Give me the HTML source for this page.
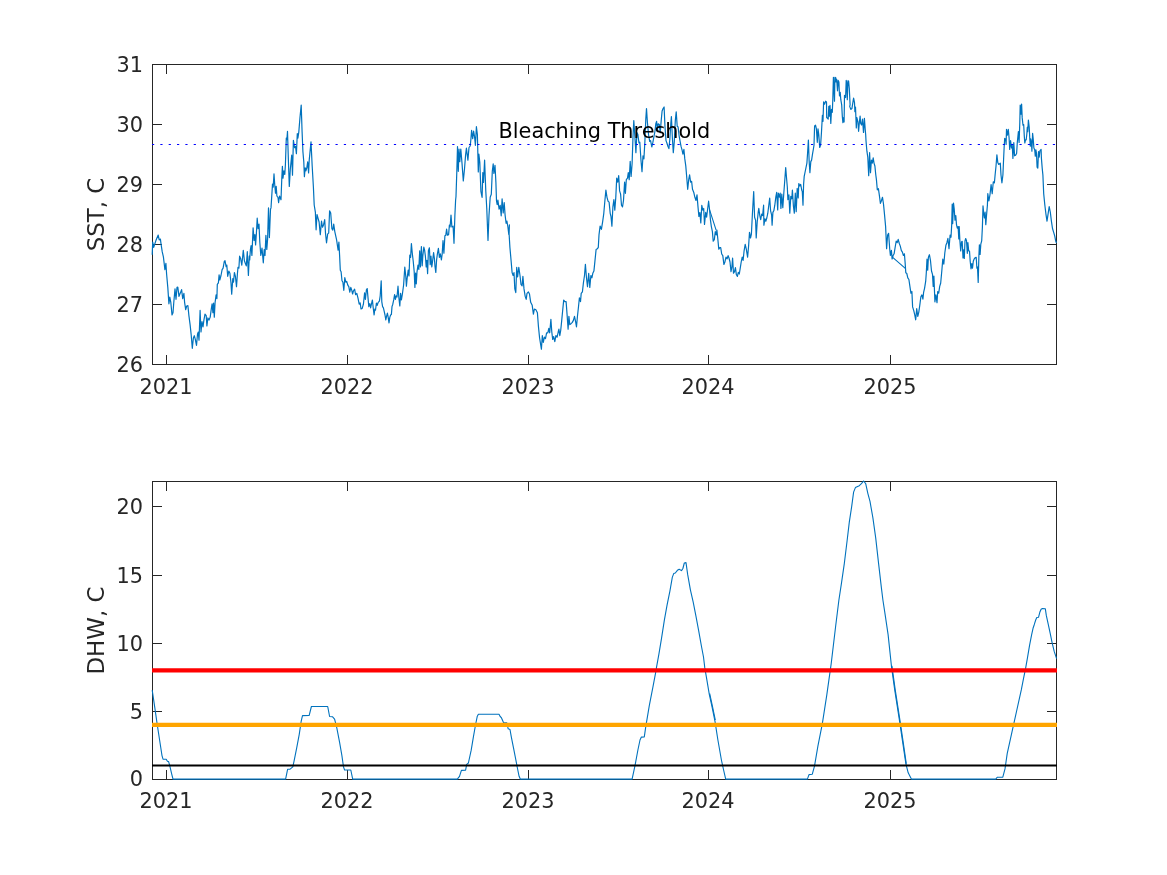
<!DOCTYPE html>
<html><head><meta charset="utf-8"><title>SST and DHW</title>
<style>html,body{margin:0;padding:0;background:#fff}svg{display:block}</style></head>
<body>
<svg width="1167" height="875" viewBox="0 0 1167 875">
<style>text{font-family:"DejaVu Sans","Liberation Sans",sans-serif;fill:#262626}.t{font-size:20.83px}.l{font-size:22.92px}</style>
<rect width="1167" height="875" fill="#fff"/>
<path d="M152.5 64.5H1056.5V364.5H152.5ZM166.5 364.5v-10M166.5 64.5v9M347.5 364.5v-10M347.5 64.5v9M528.5 364.5v-10M528.5 64.5v9M708.5 364.5v-10M708.5 64.5v9M890.5 364.5v-10M890.5 64.5v9M152.5 364.5h9M1056.5 364.5h-10M152.5 304.5h9M1056.5 304.5h-10M152.5 244.5h9M1056.5 244.5h-10M152.5 184.5h9M1056.5 184.5h-10M152.5 124.5h9M1056.5 124.5h-10M152.5 64.5h9M1056.5 64.5h-10" fill="none" stroke="#262626" stroke-width="1" shape-rendering="crispEdges"/>
<text class="t" x="165.9" y="394.2" text-anchor="middle">2021</text>
<text class="t" x="346.9" y="394.2" text-anchor="middle">2022</text>
<text class="t" x="527.9" y="394.2" text-anchor="middle">2023</text>
<text class="t" x="707.9" y="394.2" text-anchor="middle">2024</text>
<text class="t" x="889.9" y="394.2" text-anchor="middle">2025</text>
<text class="t" x="143.1" y="372.1" text-anchor="end">26</text>
<text class="t" x="143.1" y="312.1" text-anchor="end">27</text>
<text class="t" x="143.1" y="252.1" text-anchor="end">28</text>
<text class="t" x="143.1" y="192.1" text-anchor="end">29</text>
<text class="t" x="143.1" y="132.1" text-anchor="end">30</text>
<text class="t" x="143.1" y="72.1" text-anchor="end">31</text>
<path d="M152.2 254.7 152.7 242.1 153.7 247.3 155.9 240.6 158.2 235.1 159.2 239.9 160.4 239.1 161.1 244.3 162.2 251.7 163.4 256.9 164.9 269.6 165.9 263.3 166.6 274.0 167.8 287.4 168.9 303.8 169.8 297.1 170.8 302.3 172.0 314.9 173.0 312.7 173.8 302.3 175.0 288.9 176.0 299.3 177.0 287.4 177.8 287.1 179.0 296.3 180.5 292.6 181.6 289.6 182.7 298.6 183.9 293.4 184.6 302.3 185.7 309.7 186.7 306.0 187.9 305.7 188.9 315.6 190.1 324.6 191.2 335.0 192.3 348.3 193.4 337.9 194.3 335.7 195.3 339.4 196.5 345.4 197.5 334.2 198.3 332.0 199.0 340.2 200.1 310.4 201.0 332.0 202.0 321.6 203.0 326.8 203.9 320.1 205.0 314.2 206.2 315.6 206.9 326.0 207.9 317.9 209.0 320.1 210.2 317.1 211.2 309.7 212.1 303.8 212.9 312.7 213.6 303.0 214.3 317.1 215.1 302.3 216.1 294.8 216.9 298.6 217.3 284.4 218.4 282.9 219.1 274.8 219.8 280.0 221.0 275.5 222.1 269.6 223.1 268.1 224.3 261.4 225.0 260.7 226.1 266.6 226.8 265.1 227.7 276.3 228.8 271.1 229.9 273.3 231.0 282.9 231.7 294.1 232.8 278.5 233.5 282.2 234.4 272.5 235.4 276.3 236.5 286.7 237.4 274.0 238.0 267.3 238.9 268.1 239.6 256.2 240.6 258.4 241.8 265.1 243.3 250.3 244.4 260.7 245.4 263.6 246.3 265.9 247.3 251.7 248.4 275.5 249.3 256.2 249.7 259.9 250.4 249.5 251.1 245.7 251.9 255.4 253.1 227.9 254.1 240.5 254.9 234.6 255.6 245.0 256.4 233.1 257.2 218.2 258.1 228.7 259.0 224.2 259.8 242.0 260.8 255.4 262.0 248.0 263.3 262.8 264.2 249.5 265.0 255.4 265.9 235.3 266.8 249.5 267.6 239.1 268.5 207.8 269.4 237.6 270.5 209.3 271.0 207.9 272.5 184.2 273.2 187.1 274.0 173.8 274.7 184.2 275.5 193.1 276.2 186.4 276.9 196.0 278.0 197.5 278.6 202.7 279.5 196.0 281.0 199.8 281.8 178.2 282.4 166.3 283.0 178.2 283.9 170.8 284.8 174.5 285.4 164.8 286.3 138.1 286.9 139.6 287.5 131.4 288.4 160.4 289.3 186.4 290.3 169.3 291.7 155.2 292.5 175.2 293.4 140.3 294.6 147.7 295.5 146.3 296.4 153.7 297.3 133.6 297.9 138.1 298.8 132.1 300.0 117.3 301.2 105.1 302.1 132.1 302.9 151.5 303.8 161.9 304.4 176.7 305.2 167.8 305.9 170.8 306.8 167.8 307.7 161.9 308.6 173.0 309.2 160.4 311.0 141.8 312.2 166.3 313.4 187.1 314.2 205.0 315.4 212.4 315.5 216.0 316.1 229.8 317.0 214.5 318.0 218.2 319.1 222.0 320.3 234.6 321.5 221.2 322.5 227.2 323.5 224.9 324.7 219.7 325.5 233.1 326.5 242.8 327.7 233.9 328.7 233.1 329.6 210.8 330.7 213.0 331.9 228.7 332.8 230.1 333.7 224.2 334.8 231.6 336.6 239.8 338.1 250.2 338.9 242.0 339.6 255.4 340.3 270.3 341.1 271.8 342.0 280.7 342.9 282.2 343.8 290.3 344.8 277.7 345.8 282.2 346.7 281.4 347.8 285.1 348.8 286.6 349.8 292.2 350.8 287.4 351.8 290.4 352.6 294.0 353.4 291.0 354.6 289.2 355.6 294.6 356.8 293.4 358.0 298.2 359.2 304.2 360.2 303.0 361.0 309.0 362.2 308.4 363.4 304.2 364.6 292.8 365.4 299.4 366.4 289.8 367.2 288.6 368.0 297.6 368.8 306.6 369.8 303.6 370.6 307.8 371.4 304.2 372.4 300.0 373.2 307.8 374.1 315.0 374.8 309.0 375.5 310.2 376.4 303.0 377.2 305.4 378.2 302.4 379.4 301.2 380.2 295.8 381.2 280.8 381.8 301.8 382.6 306.6 383.4 307.8 384.2 311.4 385.0 315.0 385.8 319.8 386.6 316.2 387.4 313.2 388.2 317.4 389.0 322.8 389.8 317.4 390.6 315.0 391.4 314.4 392.0 306.6 392.8 304.2 393.8 299.4 394.6 294.6 395.4 299.4 396.2 295.8 397.0 297.0 398.0 286.2 398.8 297.0 399.8 306.0 400.6 293.4 401.4 300.0 402.4 294.0 403.6 285.0 404.8 267.0 405.8 276.6 406.4 286.2 407.2 277.8 408.2 270.0 409.0 276.0 409.8 255.0 410.6 257.4 411.4 243.6 412.2 252.6 413.2 261.0 414.2 271.8 414.9 287.4 415.6 273.0 416.3 283.8 417.0 271.8 418.0 265.2 418.8 269.4 419.7 250.8 420.4 267.0 421.4 246.6 422.2 265.8 422.8 256.2 423.8 247.2 424.6 250.2 425.4 256.2 426.2 267.0 426.9 260.4 427.6 273.6 428.4 250.8 429.4 247.8 430.2 264.6 431.0 256.2 431.8 267.0 432.6 261.0 433.6 252.6 434.4 258.6 435.0 266.4 435.8 272.4 436.6 259.8 437.4 253.8 438.4 248.4 439.4 257.4 440.3 253.8 441.4 259.8 442.2 253.8 443.0 240.6 443.9 253.2 444.9 235.8 445.8 235.2 446.6 229.2 447.4 235.2 448.6 234.6 449.4 225.0 450.1 227.0 451.0 215.1 451.9 227.0 453.1 226.2 454.0 243.3 454.9 215.1 455.6 200.2 456.0 196.5 456.8 172.0 457.5 146.7 458.3 171.3 459.0 149.0 459.8 161.6 460.8 149.0 462.0 163.1 463.3 180.9 464.5 169.0 465.6 154.9 466.4 148.2 467.9 160.1 469.0 147.5 470.2 146.0 470.9 139.3 471.6 130.4 472.7 138.6 473.6 131.1 474.5 136.3 475.4 145.3 476.4 126.7 477.4 134.9 478.3 172.0 478.9 154.2 479.8 162.3 480.9 191.3 482.1 197.3 482.8 172.7 483.5 182.4 484.6 160.1 485.8 191.3 486.8 209.2 488.0 240.4 489.0 215.1 490.2 197.3 491.3 194.3 492.3 171.3 493.2 163.8 493.9 173.5 495.0 165.3 495.9 182.4 496.5 201.0 497.2 204.7 497.9 200.2 499.1 209.2 500.2 205.4 501.2 215.8 502.1 198.8 503.2 212.9 504.2 202.5 505.1 215.1 506.1 223.3 506.9 221.0 507.9 227.0 508.8 234.4 509.4 224.8 509.1 233.9 509.9 247.3 511.1 260.7 512.1 272.6 513.1 275.5 514.0 272.6 514.8 288.9 515.8 292.6 516.7 267.4 517.6 277.0 518.8 267.4 520.0 275.5 521.0 284.5 522.1 285.9 522.9 276.3 524.0 288.9 525.2 296.4 526.2 299.3 527.0 293.4 528.4 291.9 529.5 294.1 530.7 302.3 532.2 305.3 533.4 314.2 534.4 309.0 535.9 309.7 537.4 312.7 538.4 326.1 539.6 338.0 541.4 349.1 542.3 335.7 543.3 342.4 544.4 337.2 545.5 338.7 546.6 332.8 547.8 332.8 548.8 328.3 549.7 332.8 550.9 319.4 551.8 332.0 552.7 339.5 553.7 336.5 554.8 341.7 555.9 335.7 557.1 337.2 558.2 332.0 558.9 329.1 559.8 335.7 560.7 330.5 561.6 321.6 562.6 311.2 563.7 300.1 564.9 301.6 566.1 301.6 567.1 314.9 568.1 329.1 568.9 316.4 569.8 324.6 570.8 323.9 572.3 322.4 573.5 320.1 574.5 316.4 575.6 321.6 576.5 326.8 577.5 315.7 578.5 306.8 579.4 297.8 580.5 301.6 581.2 293.4 582.4 291.9 583.4 283.0 584.5 275.5 585.4 264.4 586.4 277.0 587.5 286.7 588.7 273.3 589.8 287.4 590.9 275.5 591.9 277.8 592.8 273.3 593.9 271.1 594.9 261.4 596.1 249.5 597.3 248.8 598.3 247.3 599.0 234.9 600.1 226.1 601.4 229.3 602.7 221.3 603.8 213.3 604.9 200.5 605.9 190.1 607.0 197.3 608.1 201.3 609.1 202.1 610.2 213.3 611.0 216.5 611.9 226.1 612.9 206.9 613.9 199.7 614.8 210.1 615.8 197.3 616.7 178.1 617.7 182.1 618.7 175.7 619.6 190.9 620.6 194.1 621.5 205.3 622.5 206.9 623.5 200.5 624.6 182.1 625.4 193.3 626.3 179.7 627.5 178.1 628.3 172.5 629.2 179.7 630.2 161.3 631.1 176.5 632.1 163.7 633.0 136.6 633.8 120.6 635.0 138.2 635.9 152.6 636.9 132.6 637.8 134.2 639.0 143.0 639.8 142.2 641.0 160.5 642.0 171.7 643.0 155.8 643.9 158.9 644.9 141.4 645.8 119.0 646.5 108.6 647.4 122.2 648.6 135.0 649.7 141.4 650.6 140.6 651.8 147.0 652.9 142.2 653.8 137.4 655.0 131.0 655.8 123.8 656.6 121.4 657.4 131.0 658.1 123.8 659.3 124.6 660.2 132.6 661.2 120.6 662.1 111.0 663.1 108.6 664.1 107.0 665.0 127.0 666.0 140.6 666.9 143.0 667.9 146.2 668.9 148.6 669.8 139.8 670.8 123.8 671.4 116.6 672.4 138.2 673.3 152.6 674.3 141.4 675.3 120.6 676.2 111.8 677.2 126.2 678.1 127.0 679.1 135.8 680.1 141.4 681.0 146.2 682.1 150.2 682.9 154.2 683.9 149.4 684.8 158.9 685.8 166.1 686.8 178.1 687.7 189.3 688.7 179.7 689.6 174.9 690.6 182.1 691.6 181.3 692.5 189.3 693.8 192.5 694.9 197.3 696.0 200.5 697.0 194.9 698.0 206.9 698.9 216.5 699.9 212.5 700.8 222.9 701.8 205.3 702.8 210.1 703.7 208.5 704.5 224.5 705.7 212.4 706.6 217.2 707.6 209.2 708.6 201.2 709.5 209.2 710.5 220.4 711.4 226.8 712.4 231.6 713.2 241.2 714.3 239.6 715.3 231.6 716.2 234.8 716.9 230.0 717.8 238.8 718.8 249.2 719.8 247.6 720.7 247.6 721.7 254.0 722.8 255.6 723.9 264.4 724.9 262.0 726.0 257.2 727.1 258.8 728.1 255.6 729.0 258.0 730.0 262.0 731.0 271.6 731.9 266.8 732.6 258.0 733.5 273.2 734.5 271.6 735.4 267.6 736.4 274.8 737.4 276.4 738.3 272.4 739.3 274.0 740.2 268.4 741.2 262.0 742.2 257.2 743.1 260.4 744.1 250.8 745.2 244.4 746.3 249.2 747.6 257.2 748.6 246.0 749.5 232.4 750.5 238.0 751.4 234.0 752.4 214.0 753.7 191.6 754.6 217.2 755.6 220.4 756.2 238.0 757.2 222.0 758.2 212.4 758.8 208.4 759.8 215.6 760.7 219.6 761.7 214.0 762.6 215.6 763.6 205.2 763.9 225.2 764.9 218.8 765.8 221.2 766.8 218.0 767.8 213.2 768.7 206.0 769.7 198.0 770.6 210.8 771.6 214.8 772.1 225.2 772.9 212.4 773.8 210.8 774.8 205.2 775.8 197.2 776.7 192.4 777.7 210.0 778.3 193.2 779.3 197.2 780.2 193.2 780.9 208.4 781.8 194.0 782.8 207.6 783.8 193.2 784.7 181.2 785.7 167.6 786.6 178.8 787.3 186.8 787.9 199.6 788.9 194.8 789.8 213.2 790.8 196.4 791.8 198.8 792.4 190.0 793.4 206.0 794.3 213.2 795.3 193.2 796.2 211.6 797.2 188.4 798.2 198.0 798.8 183.6 799.8 186.0 800.7 184.4 801.7 190.0 802.3 191.6 803.0 205.2 803.6 184.4 804.2 176.4 805.4 170.5 806.9 163.1 807.6 152.7 808.4 140.0 809.1 160.1 809.9 172.7 810.8 161.6 811.6 160.1 812.5 154.2 813.4 149.0 814.0 145.2 814.6 125.9 815.5 125.2 816.4 128.9 817.3 142.3 818.0 128.9 818.8 134.8 819.7 147.5 820.6 145.2 821.4 133.4 822.4 115.3 823.0 121.3 823.6 101.9 824.5 104.2 825.6 101.2 826.5 101.9 826.7 117.5 828.2 119.0 828.8 106.4 829.5 116.1 830.0 105.3 830.8 123.5 831.5 109.4 832.3 112.3 832.8 99.7 833.4 77.4 834.5 101.2 834.9 77.4 835.8 77.8 836.0 81.9 836.7 79.3 837.5 90.8 838.2 80.4 838.9 81.9 839.5 96.0 840.2 92.3 840.8 99.7 841.7 104.9 842.3 116.1 842.9 122.7 843.6 117.5 844.1 122.0 844.5 95.3 845.6 97.5 846.2 80.4 846.7 83.4 847.3 99.7 847.9 80.8 848.6 81.1 849.3 88.6 850.1 104.9 849.7 106.4 850.8 109.4 851.9 108.6 853.1 101.2 853.6 98.2 854.5 102.7 854.9 111.6 855.5 107.1 856.3 127.9 856.8 117.5 857.9 122.0 858.6 131.3 859.4 122.0 860.1 116.1 860.7 123.5 861.6 125.0 862.5 119.0 863.5 132.4 864.4 118.3 865.2 129.4 865.7 135.0 866.0 140.8 866.9 151.2 867.8 157.1 868.7 175.7 869.6 152.7 870.5 172.7 871.4 160.1 872.3 163.1 873.2 157.9 874.0 163.1 874.9 166.0 875.8 175.0 876.4 179.4 877.3 189.8 878.4 188.7 879.4 195.6 880.4 203.3 881.4 200.7 882.5 197.3 883.5 204.1 884.5 214.4 885.6 226.4 886.6 248.7 887.6 235.0 888.6 233.3 889.7 248.7 890.4 255.5 891.4 250.4 892.1 259.0 893.1 255.5 894.1 253.8 895.2 247.0 896.2 241.0 897.2 242.7 898.2 239.3 899.3 243.5 900.3 246.1 901.3 250.4 902.4 252.1 903.4 255.5 904.4 253.8 905.1 262.4 905.8 272.7 906.8 273.5 907.8 277.8 908.9 279.5 909.9 286.4 910.9 293.2 911.9 291.5 912.6 306.9 913.7 310.4 914.7 314.7 915.7 319.8 916.7 308.7 917.8 316.4 918.8 312.1 919.8 305.2 920.9 296.7 921.9 294.9 922.9 299.2 923.6 292.4 924.6 288.1 925.7 281.2 926.3 272.7 927.0 259.0 927.7 270.1 928.4 257.2 929.4 254.7 930.5 260.7 931.5 271.0 932.5 274.4 933.2 286.4 933.9 276.1 934.9 301.8 935.9 294.9 937.0 302.7 937.7 291.5 938.7 293.2 939.7 286.4 940.7 283.0 941.8 271.0 942.8 259.0 943.8 264.1 944.8 253.0 945.9 245.3 946.9 242.7 947.9 238.4 949.0 248.7 950.1 235.0 951.0 237.3 951.7 224.7 952.2 204.2 952.7 223.6 953.5 203.0 954.2 208.7 955.0 220.2 955.8 215.6 956.5 224.7 957.3 228.2 958.1 226.5 958.8 239.0 959.2 226.5 959.9 240.8 960.7 251.0 961.5 241.9 962.2 241.3 963.0 257.9 963.6 249.9 964.3 258.5 965.0 240.8 965.7 238.5 966.5 240.8 967.3 253.3 967.9 242.5 968.7 251.0 969.5 251.0 970.2 261.3 971.0 268.8 971.8 263.6 972.5 268.2 973.3 261.3 974.1 259.1 975.0 257.9 976.2 257.3 976.9 268.2 977.5 267.1 978.2 282.5 978.9 255.6 979.4 244.8 980.1 254.5 980.8 244.2 981.7 240.8 982.4 227.0 983.0 205.9 983.7 213.3 984.4 217.9 985.1 212.2 985.8 224.7 986.5 215.6 987.4 205.3 987.8 193.7 988.9 201.0 990.0 194.6 991.1 184.6 992.2 193.7 993.3 181.8 994.4 182.8 995.1 175.0 996.0 166.3 996.9 154.9 997.8 162.6 998.7 164.5 1000.3 163.1 1001.0 175.0 1001.9 182.8 1002.9 175.0 1003.6 159.0 1004.2 146.2 1004.7 138.4 1005.6 138.9 1006.1 144.4 1006.5 129.3 1007.4 135.2 1008.3 129.3 1009.1 138.0 1009.7 149.4 1010.6 140.7 1011.5 148.0 1012.2 144.4 1012.9 158.5 1013.8 142.5 1014.6 155.8 1015.6 155.3 1016.6 153.5 1017.3 142.5 1018.4 131.6 1019.1 142.5 1019.8 122.4 1020.2 105.1 1021.0 114.2 1021.6 104.1 1022.2 117.9 1023.0 125.2 1023.7 124.7 1024.3 136.1 1024.8 143.0 1025.5 139.8 1026.2 139.8 1026.8 134.3 1027.3 127.4 1027.7 131.6 1028.4 120.1 1029.2 127.0 1029.8 138.9 1030.3 146.2 1030.7 138.9 1031.4 142.5 1031.9 151.2 1032.6 133.4 1033.2 138.9 1033.9 148.0 1034.7 149.8 1035.3 156.2 1035.9 149.8 1036.5 153.5 1037.1 167.2 1037.8 168.1 1038.5 151.7 1039.2 157.2 1039.9 150.8 1041.1 149.4 1041.4 158.1 1042.2 168.1 1042.9 175.0 1043.7 193.7 1044.8 204.7 1045.9 213.8 1047.0 221.1 1048.1 213.8 1049.2 206.5 1050.3 212.0 1051.4 221.1 1052.5 228.5 1053.6 232.1 1054.7 235.8 1055.8 241.3 1056.5 243.1" fill="none" stroke="#0072bd" stroke-width="1.2" stroke-linejoin="round"/>
<path d="M892.4 257.2L905.3 268.4M709.6 209.9L716.2 230.4" stroke="#0072bd" stroke-width="1.1"/>
<path d="M152 144.5H1057" stroke="#0000ff" stroke-width="1.04" stroke-dasharray="2.2 6.141" fill="none"/>
<text x="498.5" y="137.5" class="t" style="fill:#000">Bleaching Threshold</text>
<text class="l" transform="translate(104.1 214.5) rotate(-90)" text-anchor="middle">SST, C</text>
<path d="M152.5 481.5H1056.5V779.5H152.5ZM166.5 779.5v-10M166.5 481.5v9M347.5 779.5v-10M347.5 481.5v9M528.5 779.5v-10M528.5 481.5v9M708.5 779.5v-10M708.5 481.5v9M890.5 779.5v-10M890.5 481.5v9M152.5 779.5h9M1056.5 779.5h-10M152.5 711.5h9M1056.5 711.5h-10M152.5 643.5h9M1056.5 643.5h-10M152.5 575.5h9M1056.5 575.5h-10M152.5 506.5h9M1056.5 506.5h-10" fill="none" stroke="#262626" stroke-width="1" shape-rendering="crispEdges"/>
<text class="t" x="165.9" y="808.2" text-anchor="middle">2021</text>
<text class="t" x="346.9" y="808.2" text-anchor="middle">2022</text>
<text class="t" x="527.9" y="808.2" text-anchor="middle">2023</text>
<text class="t" x="707.9" y="808.2" text-anchor="middle">2024</text>
<text class="t" x="889.9" y="808.2" text-anchor="middle">2025</text>
<text class="t" x="143.1" y="786.1" text-anchor="end">0</text>
<text class="t" x="143.1" y="719.1" text-anchor="end">5</text>
<text class="t" x="143.1" y="651.1" text-anchor="end">10</text>
<text class="t" x="143.1" y="583.1" text-anchor="end">15</text>
<text class="t" x="143.1" y="514.1" text-anchor="end">20</text>
<path d="M152.2 690.2 154.8 707.6 157.2 724.4 159.6 740.0 162.0 755.6 163.0 759.2 166.2 759.2 167.4 761.3 168.6 761.6 169.8 765.8 171.6 773.6 173.0 779.15 285.6 779.15 287.6 769.3 290.1 769.1 292.8 766.9 294.0 761.3 296.7 747.9 299.2 734.6 301.2 721.2 302.5 715.6 309.2 715.4 311.4 706.5 327.7 706.5 329.6 716.5 332.4 716.7 334.6 719.2 336.8 727.9 339.6 742.4 341.9 755.7 343.5 766.9 344.6 770.0 350.8 770.0 352.7 779.15 457.3 779.15 459.5 776.3 461.4 770.4 465.6 770.2 466.7 764.4 468.4 763.0 471.2 750.2 473.4 736.8 475.6 724.5 477.3 716.2 478.4 714.3 499.0 714.3 500.2 716.5 501.3 717.6 503.5 722.5 506.8 722.9 508.2 728.8 510.0 729.5 511.3 736.8 513.5 747.9 515.7 759.1 517.4 768.0 519.1 776.3 520.4 779.15 632.1 779.15 635.0 765.7 637.9 750.0 640.0 740.0 641.4 737.1 644.3 736.9 645.7 727.1 649.3 705.7 652.9 687.1 656.4 668.6 656.4 667.9 658.9 654.2 661.6 637.8 664.4 619.9 667.1 604.9 669.9 591.1 672.3 577.4 673.7 573.6 675.3 573.0 677.4 570.3 679.2 569.2 681.5 570.6 682.9 568.5 684.3 563.0 686.0 562.6 687.7 574.7 690.4 589.8 693.2 602.1 695.9 615.8 698.7 630.9 701.4 646.0 703.5 657.0 704.8 667.9 706.4 677.1 709.3 694.3 712.1 707.1 715.0 721.4 717.9 740.0 721.4 760.0 723.6 770.0 725.7 779.15 807.4 779.15 809.0 774.6 812.3 774.2 814.5 766.1 817.9 746.1 822.3 723.8 826.8 694.8 831.2 663.6 835.7 625.7 838.9 600.0 841.4 583.6 844.3 563.6 847.1 540.7 849.3 522.1 851.7 506.4 853.6 492.1 855.4 487.6 859.3 485.7 861.4 483.6 863.6 481.0 865.7 483.6 867.9 493.6 870.0 501.4 872.9 517.9 875.7 537.9 878.6 563.6 881.4 587.9 882.9 600.0 884.8 612.3 888.1 634.6 891.4 665.8 894.8 690.3 899.3 719.3 902.6 741.6 905.9 763.9 908.2 772.8 911.5 779.15 995.7 779.15 997.4 777.2 1002.8 777.2 1005.0 768.9 1007.2 753.7 1011.5 734.1 1021.3 689.9 1023.4 679.1 1025.5 668.9 1027.5 657.6 1029.6 645.2 1031.6 634.9 1033.2 627.7 1034.4 624.2 1035.7 620.0 1036.8 617.5 1038.5 617.3 1039.8 612.3 1041.1 609.2 1042.4 608.5 1045.3 608.7 1046.3 615.4 1048.1 623.6 1050.1 632.9 1052.2 643.2 1054.2 651.4 1056.6 658.6" fill="none" stroke="#0072bd" stroke-width="1.1" stroke-linejoin="round"/>
<path d="M891.9 665.8L895.3 690.3L899.8 719.3L903.1 741.6L906.3 763.9M709.7 693.5L712.5 706.5L715.3 720" fill="none" stroke="#0072bd" stroke-width="1.1"/>
<path d="M152 765.55H1057" stroke="#000" stroke-width="2.08"/>
<path d="M152 724.9H1057" stroke="#ffa500" stroke-width="4.17"/>
<path d="M152 670.3H1057" stroke="#ff0000" stroke-width="4.17"/>
<text class="l" transform="translate(104.1 630.5) rotate(-90)" text-anchor="middle">DHW, C</text>
</svg>
</body></html>
